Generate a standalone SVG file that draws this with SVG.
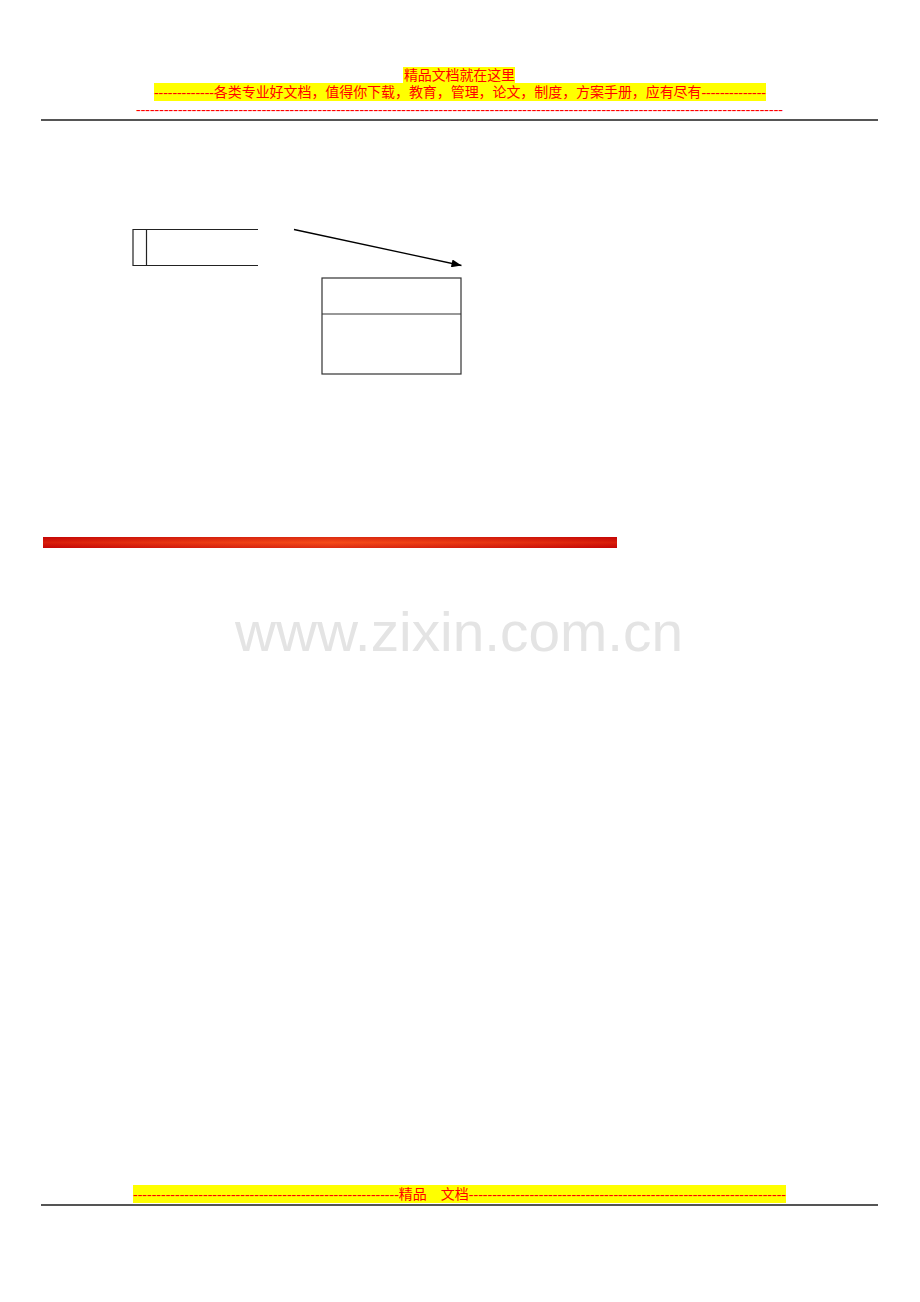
<svg xmlns="http://www.w3.org/2000/svg" width="920" height="1302" viewBox="0 0 920 1302">
<style>
.hdr{font-family:"Liberation Serif","Noto Sans CJK SC",serif;font-size:14px;fill:#ff0000}
.rule{stroke:#555;stroke-width:2}
.ln{stroke:#222;stroke-width:1.2;fill:none}
.box{stroke:#333;stroke-width:1.2;fill:#fff}
</style>
<defs>
<marker id="arr" markerWidth="10" markerHeight="8" refX="10" refY="4" orient="auto" markerUnits="userSpaceOnUse">
<path d="M0,0 L10,4 L0,8 Z" fill="#000"/>
</marker>
<linearGradient id="barV" x1="0" y1="0" x2="0" y2="1">
<stop offset="0" stop-color="#c80a0a"/>
<stop offset="0.5" stop-color="#f03a14"/>
<stop offset="1" stop-color="#c80a0a"/>
</linearGradient>
<linearGradient id="barH" x1="0" y1="0" x2="1" y2="0">
<stop offset="0" stop-color="#c00000" stop-opacity="0.5"/>
<stop offset="0.5" stop-color="#ff6a20" stop-opacity="0.35"/>
<stop offset="1" stop-color="#c00000" stop-opacity="0.5"/>
</linearGradient>
</defs>
<rect width="920" height="1302" fill="#fff"/>
<g id="header">
<rect x="403" y="67" width="112" height="16" fill="#ffff00"/>
<text class="hdr" x="404" y="80" textLength="111">精品文档就在这里</text>
<rect x="154" y="83" width="612" height="18" fill="#ffff00"/>
<text class="hdr" x="154" y="97" textLength="612">-------------各类专业好文档，值得你下载，教育，管理，论文，制度，方案手册，应有尽有--------------</text>
<text class="hdr" x="136" y="114" textLength="647" lengthAdjust="spacing">-------------------------------------------------------------------------------------------------------------------------------------------</text>
<line class="rule" x1="41" y1="120" x2="878" y2="120"/>
</g>
<g id="node-left">
<polyline class="ln" points="258,229.5 133,229.5 133,265.5 258,265.5"/>
<line class="ln" x1="146.5" y1="229.5" x2="146.5" y2="265.5"/>
</g>
<g id="node-right">
<rect class="box" x="322" y="278" width="139" height="96"/>
<line class="box" x1="322" y1="314" x2="461" y2="314"/>
</g>
<g id="connectors">
<line x1="294" y1="229.5" x2="461.5" y2="265.5" stroke="#000" stroke-width="1.3" marker-end="url(#arr)"/>
</g>
<g id="red-bar">
<rect x="43" y="537" width="574" height="11" fill="url(#barV)"/>
<rect x="43" y="537" width="574" height="11" fill="url(#barH)"/>
</g>
<text x="235" y="651" font-family="Liberation Sans, Arial, sans-serif" font-size="55" fill="#e4e4e4" textLength="448" lengthAdjust="spacingAndGlyphs">www.zixin.com.cn</text>
<g id="footer">
<rect x="133" y="1185" width="653" height="18" fill="#ffff00"/>
<text class="hdr" x="133" y="1199" textLength="653">---------------------------------------------------------精品　文档--------------------------------------------------------------------</text>
<line class="rule" x1="41" y1="1205" x2="878" y2="1205"/>
</g>
</svg>
